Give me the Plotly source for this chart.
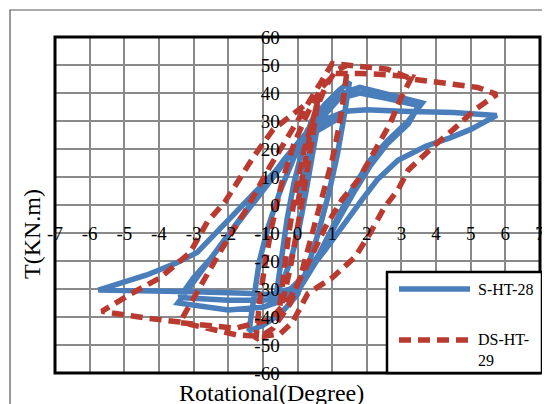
import plotly.graph_objects as go

# ---- data ----
s_ht_28_rot = [
    0.0, 0.2, 0.4, 0.6, 0.45, 0.25, 0.05, -0.2, -0.45, -0.6,
    -0.45, -0.3, -0.1, 0.15, 0.4,
    0.8, 1.2, 1.5, 1.35, 1.15, 0.9, 0.6, 0.3, 0.0, -0.5, -1.0, -1.4,
    -1.25, -1.1, -0.85, -0.5, -0.1, 0.3, 0.8,
    1.3, 1.8, 2.6, 3.6, 3.2, 2.6, 2.1, 1.6, 1.1, 0.6, 0.1, -0.4, -1.0, -2.0, -3.45,
    -3.1, -2.7, -2.2, -1.6, -1.0, -0.4, 0.2, 0.7,
    1.2, 1.8, 2.6, 3.5, 3.2, 2.6, 2.1, 1.6, 1.1, 0.6, 0.1, -0.4, -1.0, -2.0, -3.4,
    -3.0, -2.5, -2.0, -1.4, -0.8, -0.2, 0.4, 0.9,
    1.4, 2.0, 3.0, 4.5, 5.75, 5.0, 4.4, 3.7, 2.9, 2.3, 1.87, 1.3, 0.8, 0.3, -0.2,
    -0.8, -1.5, -3.0, -4.5, -5.75,
    -4.35, -3.5, -2.9, -2.2, -1.5, -0.8, -0.1, 0.5, 1.2,
]
s_ht_28_torque = [
    0, 12, 22, 30, 18, 5, -8, -20, -28, -31,
    -18, -5, 8, 20, 30,
    36, 41, 44, 32, 18, 4, -10, -22, -32, -39, -43, -45,
    -32, -20, -8, 5, 17, 27, 35,
    40, 42, 39.5, 36.5, 30, 23, 16, 6, -6, -18, -28, -34, -36.5, -37.5, -35,
    -29, -22, -14, -4, 6, 16, 25, 31,
    38, 40, 38, 35.5, 29, 22, 14, 4, -7, -19, -29, -33, -34, -34, -33,
    -26, -19, -11, -1, 9, 18, 26, 31,
    33.5, 34, 33.5, 33, 32, 27, 24, 21, 16, 9, 2, -8, -16, -24, -30,
    -32, -31.5, -31, -30.8, -30.4,
    -25, -20.7, -17, -8, 1, 10, 19, 26, 31,
]

ds_ht_29_rot = [
    0.0, 0.2, 0.4, 0.6, 0.45, 0.25, 0.0, -0.2, -0.4, -0.55,
    -0.4, -0.25, -0.05, 0.2, 0.5,
    0.8, 1.1, 1.45, 1.35, 1.2, 1.0, 0.7, 0.4, 0.1, -0.2, -0.7, -1.2,
    -1.1, -0.95, -0.75, -0.45, -0.1, 0.3, 0.7,
    1.1, 1.8, 2.6, 3.3, 3.0, 2.67, 2.24, 1.75, 1.28, 0.8, 0.3, -0.2, -0.8, -1.8, -3.4,
    -3.0, -2.6, -2.2, -1.5, -0.8, -0.1, 0.5,
    1.0, 1.8, 2.6, 3.3, 4.2, 5.2, 5.75, 5.12, 4.5, 3.9, 3.2, 2.9, 2.5, 2.1, 1.66,
    1.0, 0.3, -0.15, -0.5, -1.0, -1.75, -2.4, -3.4, -4.35, -5.65,
    -4.85, -3.97, -3.1, -2.6, -2.1, -1.28, -0.7, 0.0, 0.45,
]
ds_ht_29_torque = [
    0, 15, 28, 38, 25, 10, -8, -22, -33, -40,
    -25, -10, 5, 20, 33,
    42, 48, 50, 40, 28, 16, 2, -12, -25, -35, -44, -48,
    -35, -22, -8, 8, 22, 33, 42,
    47, 47, 46.5, 45.7, 38.6, 29, 19.6, 8.9, 1.8, -8, -21, -33, -41, -44, -42,
    -33, -24, -16, -2, 13.6, 28, 40,
    50.5, 49.5, 48.5, 45, 43.5, 42, 39.5, 34, 27, 20.7, 12.5, 5.4, -1, -10, -18.6,
    -26, -31.6, -42, -46, -47, -46.4, -44.6, -41.8, -40.4, -38,
    -32, -26, -17, -6, 1, 17, 27, 34, 38,
]

x_ticks = [-7, -6, -5, -4, -3, -2, -1, 0, 1, 2, 3, 4, 5, 6, 7]
y_ticks = [-60, -50, -40, -30, -20, -10, 0, 10, 20, 30, 40, 50, 60]
series_names = ["S-HT-28", "DS-HT-29"]
axis_titles = ["Rotational(Degree)", "T(KN.m)"]

BLUE = "#4A7EBB"
RED = "#BA3A30"
FONT = "Liberation Serif, Times New Roman, serif"

# page body has an 8px margin: window coords = figure coords + 8
OFF = 8
L, T, PW, PH = 55 - OFF, 37 - OFF, 485, 336
W, H = 550 - OFF, 404 - OFF

fig = go.Figure()
fig.add_trace(go.Scatter(x=s_ht_28_rot, y=s_ht_28_torque, mode="lines",
                         name=series_names[0],
                         line=dict(color=BLUE, width=5.5)))
fig.add_trace(go.Scatter(x=ds_ht_29_rot, y=ds_ht_29_torque, mode="lines",
                         name=series_names[1],
                         line=dict(color=RED, width=5.5, dash="12px,7px")))

fig.update_layout(
    width=W, height=H, autosize=False,
    margin=dict(l=L, r=W - L - PW, t=T, b=H - T - PH, pad=0),
    paper_bgcolor="white", plot_bgcolor="white",
    showlegend=False,
    font=dict(family=FONT, color="black", size=19),
    xaxis=dict(range=[-7, 7], tickvals=x_ticks, ticktext=[str(v) for v in x_ticks],
               showgrid=True, gridcolor="#8a8a8a", gridwidth=1.6,
               zeroline=False, showline=False,
               anchor="free", position=0.5, side="bottom",
               ticks="outside", ticklen=11, tickcolor="rgba(0,0,0,0)",
               tickfont=dict(size=19, family=FONT), automargin=False),
    yaxis=dict(range=[-60, 60], tickvals=y_ticks, ticktext=[str(v) for v in y_ticks],
               showgrid=True, gridcolor="#8a8a8a", gridwidth=1.6,
               zeroline=False, showline=False,
               anchor="free", position=0.5, side="left",
               ticks="outside", ticklen=14, tickcolor="rgba(0,0,0,0)",
               tickfont=dict(size=19, family=FONT), automargin=False),
)


def px(x):
    """window pixel x -> paper fraction"""
    return (x - 55) / PW


def py(y):
    """window pixel y -> paper fraction"""
    return (373 - y) / PH


# plot-area frame and outer chart frame
fig.add_shape(type="rect", xref="paper", yref="paper", x0=0, y0=0, x1=1, y1=1,
              line=dict(color="black", width=3), layer="above")
fig.add_shape(type="rect", xref="paper", yref="paper",
              x0=px(10), y0=py(420), x1=px(570), y1=py(10),
              line=dict(color="#595959", width=1.2), layer="above")

# axis titles
fig.add_annotation(text=axis_titles[0], xref="paper", yref="paper",
                   x=px(271), y=py(393), showarrow=False,
                   xanchor="center", yanchor="middle",
                   font=dict(size=24, family=FONT, color="black"))
fig.add_annotation(text=axis_titles[1], xref="paper", yref="paper",
                   x=px(32), y=py(234), showarrow=False,
                   textangle=-90, xanchor="center", yanchor="middle",
                   font=dict(size=24, family=FONT, color="black"))

# legend box (drawn manually to match the long line samples)
fig.add_shape(type="rect", xref="paper", yref="paper",
              x0=px(387), y0=py(373), x1=px(542), y1=py(272),
              line=dict(color="black", width=2.5), fillcolor="white", layer="above")
fig.add_shape(type="line", xref="paper", yref="paper",
              x0=px(399), y0=py(289), x1=px(470), y1=py(289),
              line=dict(color=BLUE, width=5.5), layer="above")
fig.add_shape(type="line", xref="paper", yref="paper",
              x0=px(399), y0=py(340), x1=px(470), y1=py(340),
              line=dict(color=RED, width=5.5, dash="12px,7px"), layer="above")
fig.add_annotation(text=series_names[0], xref="paper", yref="paper",
                   x=px(476), y=py(289), showarrow=False, xanchor="left", yanchor="middle",
                   font=dict(size=16, family=FONT, color="black"))
fig.add_annotation(text="DS-HT-<br>29", xref="paper", yref="paper",
                   x=px(476), y=py(350), showarrow=False, xanchor="left", yanchor="middle",
                   align="left", font=dict(size=16, family=FONT, color="black"))

fig.write_html("out.html")
